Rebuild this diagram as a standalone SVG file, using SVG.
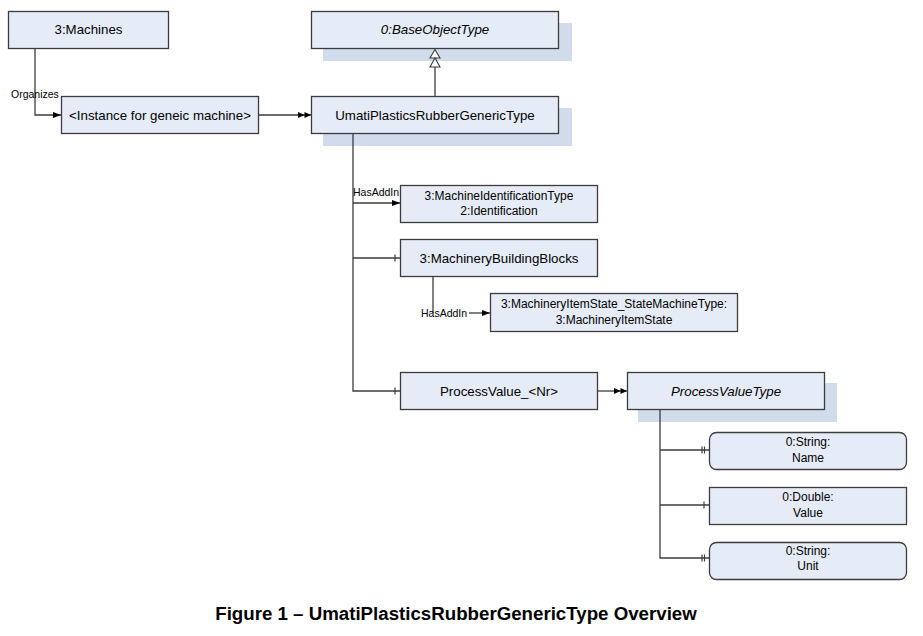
<svg xmlns="http://www.w3.org/2000/svg" width="923" height="636" viewBox="0 0 923 636">
<style>
.box{fill:#E6ECF7;stroke:#3C3C3C;stroke-width:1.3}
.sh{fill:#D0DBEC}
.t{font-family:"Liberation Sans",Arial,sans-serif;font-size:13.3px;fill:#000;text-anchor:middle;dominant-baseline:central}
.t2{font-family:"Liberation Sans",Arial,sans-serif;font-size:12px;fill:#000;text-anchor:middle}
.it{font-style:italic}
.lbl{font-family:"Liberation Sans",Arial,sans-serif;font-size:10.5px;fill:#000}
.c{fill:none;stroke:#3C3C3C;stroke-width:1.3}
.tk{stroke:#3C3C3C;stroke-width:1.2}
.cap{font-family:"Liberation Sans",Arial,sans-serif;font-size:18.7px;font-weight:bold;text-anchor:middle;fill:#000}
</style>
<defs>
<marker id="arr" viewBox="0 0 8 6" refX="8" refY="3" markerWidth="8" markerHeight="6" markerUnits="userSpaceOnUse" orient="auto">
<path d="M0,0 L8,3 L0,6 z" fill="#000"/>
</marker>
<marker id="dbl" viewBox="0 0 13 6" refX="13" refY="3" markerWidth="13" markerHeight="6" markerUnits="userSpaceOnUse" orient="auto">
<path d="M0,0 L6.5,3 L0,6 z M6.5,0 L13,3 L6.5,6 z" fill="#000"/>
</marker>
</defs>
<rect width="923" height="636" fill="#fff"/>

<g id="machines">
<rect class="box" x="8.5" y="11.5" width="160" height="37"/>
<text class="t" x="88.5" y="29.5">3:Machines</text>
</g>
<g id="instance">
<rect class="box" x="61.5" y="96.5" width="197" height="37"/>
<text class="t" x="160" y="115">&lt;Instance for geneic machine&gt;</text>
</g>
<g id="baseobjecttype">
<rect class="sh" x="323" y="23" width="249" height="38"/>
<rect class="box" x="311.5" y="11.5" width="247" height="37"/>
<text class="t it" x="435" y="29.5">0:BaseObjectType</text>
</g>
<g id="umati">
<rect class="sh" x="323" y="108" width="249" height="38"/>
<rect class="box" x="311.5" y="96.5" width="247" height="37"/>
<text class="t" x="435" y="115">UmatiPlasticsRubberGenericType</text>
</g>
<g id="identification">
<rect class="box" x="400.5" y="185.5" width="197" height="37"/>
<text class="t2" x="499" y="200">3:MachineIdentificationType</text>
<text class="t2" x="499" y="215">2:Identification</text>
</g>
<g id="buildingblocks">
<rect class="box" x="400.5" y="239.5" width="197" height="37"/>
<text class="t" x="499" y="258">3:MachineryBuildingBlocks</text>
</g>
<g id="itemstate">
<rect class="box" x="490.5" y="293.5" width="247" height="38"/>
<text class="t2" x="614" y="308">3:MachineryItemState_StateMachineType:</text>
<text class="t2" x="614" y="324">3:MachineryItemState</text>
</g>
<g id="processvalue">
<rect class="box" x="400.5" y="372.5" width="197" height="37"/>
<text class="t" x="499" y="391">ProcessValue_&lt;Nr&gt;</text>
</g>
<g id="processvaluetype">
<rect class="sh" x="638" y="383" width="199" height="39"/>
<rect class="box" x="627.5" y="372.5" width="197" height="37"/>
<text class="t it" x="726" y="391">ProcessValueType</text>
</g>
<g id="name">
<rect class="box" x="709.5" y="432.5" width="197" height="37" rx="7"/>
<text class="t2" x="808" y="446">0:String:</text>
<text class="t2" x="808" y="462">Name</text>
</g>
<g id="value">
<rect class="box" x="709.5" y="487.5" width="197" height="37"/>
<text class="t2" x="808" y="501">0:Double:</text>
<text class="t2" x="808" y="517">Value</text>
</g>
<g id="unit">
<rect class="box" x="709.5" y="542.5" width="197" height="37" rx="7"/>
<text class="t2" x="808" y="555">0:String:</text>
<text class="t2" x="808" y="570">Unit</text>
</g>

<g id="connectors">
<path class="c" d="M35,49 V115 H61" marker-end="url(#arr)"/>
<text class="lbl" x="11" y="98">Organizes</text>
<path class="c" d="M259,115 H311" marker-end="url(#dbl)"/>
<path class="c" d="M435,96 V66"/>
<path d="M435,58 L430,67 L440,67 z M435,49.5 L430,58 L440,58 z" fill="#fff" stroke="#3C3C3C" stroke-width="1.1"/>
<path class="c" d="M353,134 V391 H400"/>
<path class="c" d="M353,203 H400" marker-end="url(#arr)"/>
<text class="lbl" x="353" y="196">HasAddIn</text>
<path class="c" d="M353,258 H400"/>
<line class="tk" x1="395" y1="254.5" x2="395" y2="261.5"/>
<line class="tk" x1="395" y1="387.5" x2="395" y2="394.5"/>
<path class="c" d="M433,277 V313"/>
<path class="c" d="M469,313 H490" marker-end="url(#arr)"/>
<text class="lbl" x="421" y="317">HasAddIn</text>
<path class="c" d="M598,391 H627" marker-end="url(#dbl)"/>
<path class="c" d="M660,409 V558 H709"/>
<path class="c" d="M660,450 H709"/>
<path class="c" d="M660,505 H709"/>
<line class="tk" x1="702" y1="446.5" x2="702" y2="453.5"/>
<line class="tk" x1="704.5" y1="446.5" x2="704.5" y2="453.5"/>
<line class="tk" x1="704" y1="501.5" x2="704" y2="508.5"/>
<line class="tk" x1="702" y1="554.5" x2="702" y2="561.5"/>
<line class="tk" x1="704.5" y1="554.5" x2="704.5" y2="561.5"/>
</g>

<text class="cap" x="456" y="620">Figure 1 – UmatiPlasticsRubberGenericType Overview</text>
</svg>
